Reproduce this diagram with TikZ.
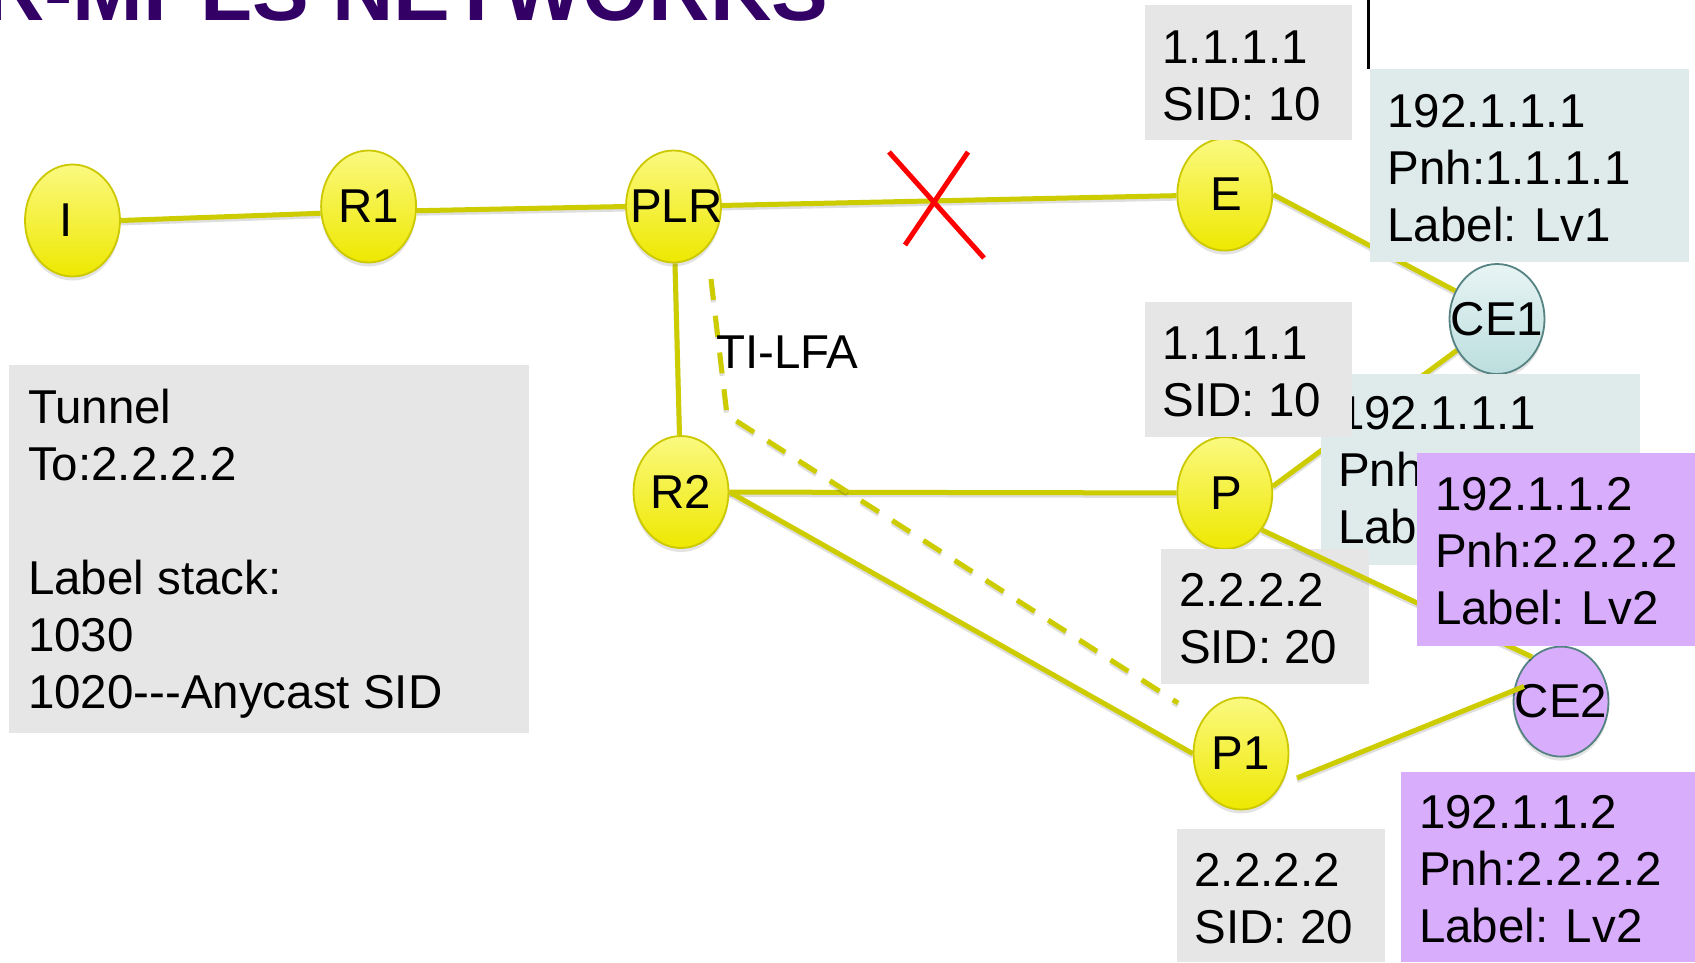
\documentclass[tikz,border=0pt]{standalone}
\usepackage{fontspec}
\setmainfont{Liberation Sans}
\usetikzlibrary{shapes.geometric,shadows}
\definecolor{titlecol}{RGB}{51,0,102}
\definecolor{ntop}{RGB}{251,249,128}
\definecolor{nbot}{RGB}{238,232,0}
\definecolor{nborder}{RGB}{204,200,0}
\definecolor{linecol}{RGB}{204,204,0}
\definecolor{ceborder}{RGB}{85,130,130}
\definecolor{cetop}{RGB}{232,244,244}
\definecolor{cebot}{RGB}{188,222,222}
\definecolor{purp}{RGB}{216,173,252}
\definecolor{grayb}{RGB}{230,230,230}
\definecolor{cyanb}{RGB}{223,235,235}
\newcommand{\ml}[1]{\begin{tabular}[t]{@{}l@{}}#1\end{tabular}}
\pgfdeclarelayer{bg}
\pgfdeclarelayer{lines}
\pgfdeclarelayer{front}
\pgfsetlayers{bg,lines,main,front}
\begin{document}
\begin{tikzpicture}[x=1pt,y=-1pt,
  big/.style={font=\fontsize{47.5}{57}\selectfont},
  txt/.style={big, inner sep=0pt, outer sep=0pt, anchor=base west, align=left},
  box/.style={rectangle, inner sep=0pt, outer sep=0pt, anchor=north west},
  nshadow/.style={drop shadow={shadow xshift=0pt, shadow yshift=-4pt, opacity=0.22}},
  router/.style={ellipse, draw=nborder, line width=1.8pt, top color=ntop, bottom color=nbot,
    minimum width=95pt, minimum height=112pt, inner sep=0pt, nshadow},
  cenode/.style={ellipse, draw=ceborder, line width=1.8pt,
    minimum width=95pt, minimum height=110pt, inner sep=0pt, nshadow},
  conn/.style={draw=linecol, line width=5pt,
    preaction={draw=black, draw opacity=0.13, line width=5pt, transform canvas={yshift=-2.5pt}}},
  dconn/.style={draw=linecol, line width=5pt, dash pattern=on 21pt off 16pt,
    preaction={draw=black, draw opacity=0.13, line width=5pt, dash pattern=on 21pt off 16pt, transform canvas={yshift=-2.5pt}}},
  cross/.style={draw=red, line width=5pt},
]
\useasboundingbox (0,0) rectangle (1695,962);
\begin{pgfonlayer}{bg}
\fill[white] (0,0) rectangle (1695,962);
\end{pgfonlayer}

% title
\node[inner sep=0pt, anchor=base west, text=titlecol, font=\fontsize{85}{100}\selectfont\bfseries] (title) at (-17,20) {R-MPLS NETWORKS};
\coordinate (vl1) at (1368.6,0);
\coordinate (vl2) at (1368.6,69);
\draw[black, line width=2.3pt] (vl1) -- (vl2);

% routers
\node[router, label={[big, xshift=-6pt]center:I}] (I) at (72.5,220.5) {};
\node[router, label={[big]center:R1}] (R1) at (368.6,206.5) {};
\node[router, label={[big, xshift=3pt]center:PLR}] (PLR) at (673.5,206.5) {};
\node[router, label={[big, xshift=2pt]center:E}] (E) at (1224.8,194.6) {};
\node[router, label={[big, xshift=2pt]center:P}] (P) at (1224.8,493) {};
\node[router, label={[big]center:R2}] (R2) at (681,492) {};
\node[router, label={[big]center:P1}] (P1) at (1241,753.5) {};
\node[cenode, top color=cetop, bottom color=cebot, label={[big]center:CE1}] (CE1) at (1497,319) {};
\node[cenode, fill=purp, label={[big]center:CE2}] (CE2) at (1561,701.6) {};

% tunnel box (background)
\begin{pgfonlayer}{bg}
\node[box, fill=grayb, minimum width=520pt, minimum height=368pt] (tun) at (8.6,365) {};
\node[txt] (tunt) at (28,423) {\ml{Tunnel\\To:2.2.2.2\\ \\Label stack:\\1030\\1020-{}-{}-Anycast SID}};
\end{pgfonlayer}

% connectors
\begin{pgfonlayer}{lines}
\draw[conn] (I.east) -- (R1.188);
\draw[conn] (R1.-5) -- (PLR.west);
\draw[conn] (PLR) -- (E);
\draw[conn] (E.east) -- (CE1.146);
\draw[conn] (PLR) -- (R2);
\draw[conn] (R2) -- (P);
\draw[conn] (R2.east) -- (P1.west);
\draw[conn] (P.8) -- (CE1.218);
\coordinate (d1) at (711,279);
\coordinate (d2) at (727,415);
\coordinate (d3) at (1178,703);
\draw[dconn] (d1) -- (d2) -- (d3);
\node[txt] (tilfa) at (716,368) {TI-LFA};
\coordinate (x1a) at (889,152);
\coordinate (x1b) at (984,258);
\coordinate (x2a) at (968,152);
\coordinate (x2b) at (905,245);
\draw[cross] (x1a) -- (x1b);
\draw[cross] (x2a) -- (x2b);
\end{pgfonlayer}

% boxes in front
\begin{pgfonlayer}{front}
\node[box, fill=cyanb, minimum width=319pt, minimum height=192.6pt] (cb1) at (1369.6,69) {};
\node[txt] (cb1t) at (1387.5,127) {\ml{192.1.1.1\\Pnh:1.1.1.1\\Label: Lv1}};
\node[box, fill=cyanb, minimum width=319pt, minimum height=191.4pt] (cb2) at (1321,374) {};
\node[txt] (cb2t) at (1338,429) {\ml{192.1.1.1\\Pnh:1.1.1.1\\Label: Lv1}};
\node[box, fill=grayb, minimum width=207pt, minimum height=135pt] (gb1) at (1145,5) {};
\node[txt] (gb1t) at (1162.5,63.5) {\ml{1.1.1.1\\SID: 10}};
\node[box, fill=grayb, minimum width=207pt, minimum height=135pt] (gb2) at (1145,301.6) {};
\node[txt] (gb2t) at (1162.5,359) {\ml{1.1.1.1\\SID: 10}};
\node[box, fill=grayb, minimum width=207.6pt, minimum height=135pt] (gb3) at (1161,549) {};
\node[txt] (gb3t) at (1179,606) {\ml{2.2.2.2\\SID: 20}};
\draw[conn] (P.-45) -- (CE2.123);
\node[box, fill=purp, minimum width=278pt, minimum height=193.4pt] (pb1) at (1417,453) {};
\node[txt] (pb1t) at (1435,510) {\ml{192.1.1.2\\Pnh:2.2.2.2\\Label: Lv2}};
\node[box, fill=purp, minimum width=294pt, minimum height=190pt] (pb2) at (1401,772) {};
\node[txt] (pb2t) at (1419,828) {\ml{192.1.1.2\\Pnh:2.2.2.2\\Label: Lv2}};
\node[box, fill=grayb, minimum width=208pt, minimum height=133pt] (gb4) at (1177,829) {};
\node[txt] (gb4t) at (1194.5,886) {\ml{2.2.2.2\\SID: 20}};
\coordinate (f1) at (1297,778);
\coordinate (f2) at (1524,686.4);
\draw[conn] (f1) -- (f2);
\end{pgfonlayer}
\end{tikzpicture}
\end{document}
